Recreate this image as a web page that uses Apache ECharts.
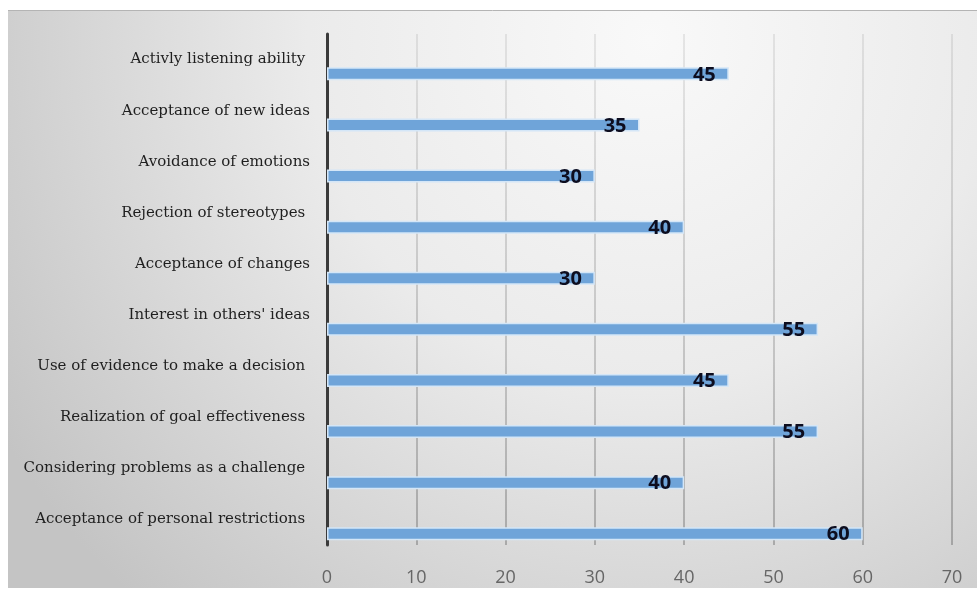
<!DOCTYPE html>
<html><head><meta charset="utf-8">
<script src="https://cdn.jsdelivr.net/npm/echarts@6/dist/echarts.min.js"></script>
<style>html,body{margin:0;padding:0;background:#fff}#c{width:977px;height:591px}</style>
</head><body><div id="c"></div>
<script>
const categories = ["Activly listening ability ", "Acceptance of new ideas", "Avoidance of emotions", "Rejection of stereotypes ", "Acceptance of changes", "Interest in others' ideas", "Use of evidence to make a decision ", "Realization of goal effectiveness ", "Considering problems as a challenge ", "Acceptance of personal restrictions "];
const values = [45, 35, 30, 40, 30, 55, 45, 55, 40, 60];
const xTicks = [0, 10, 20, 30, 40, 50, 60, 70];

const chart = echarts.init(document.getElementById('c'), null, {renderer: 'canvas'});
chart.setOption({
  animation: false,
  graphic: [
    {type: 'rect', z: -10, shape: {x: 8, y: 10, width: 969, height: 578},
     style: {fill: new echarts.graphic.RadialGradient(650, 40, 760, [
       {offset: 0, color: '#f9f9f9'}, {offset: 0.45, color: '#ebebeb'}, {offset: 1, color: '#c4c4c4'}], true)}},
    {type: 'line', z: -9, shape: {x1: 8, y1: 10.5, x2: 977, y2: 10.5}, style: {stroke: '#b4b4b4', lineWidth: 1}}
  ],
  grid: {left: 327, right: 25, top: 34, bottom: 46},
  xAxis: {
    type: 'value', min: 0, max: 70, interval: 10,
    axisLine: {show: false}, axisTick: {show: false},
    axisLabel: {margin: 24, color: '#666666', fontSize: 18, fontFamily: 'Open Sans', formatter: v => xTicks.includes(v) ? String(v) : ''},
    splitLine: {show: true, lineStyle: {width: 1.5, color: new echarts.graphic.LinearGradient(0, 0, 0, 1, [
      {offset: 0, color: 'rgba(0,0,0,0.1)'}, {offset: 1, color: 'rgba(0,0,0,0.3)'}])}}
  },
  yAxis: {
    type: 'category', data: categories, inverse: true,
    axisLine: {show: true, lineStyle: {color: '#3a3a3a', width: 3}},
    axisTick: {show: false},
    axisLabel: {margin: 17, color: '#1f1f1f', fontSize: 15, fontFamily: 'DejaVu Serif'}
  },
  series: [
    {type: 'bar', name: 'spacer', data: categories.map(() => null), barWidth: 13, barGap: '120%'},
    {type: 'bar', name: 'value', data: values, barWidth: 13,
     itemStyle: {color: '#6fa4d9', borderColor: '#d4e6f7', borderWidth: 1.5},
     label: {show: true, position: 'insideRight', offset: [-8, 1], color: '#0d0d1f', fontWeight: 'bold', fontSize: 20, fontFamily: 'Open Sans'}}
  ]
});
</script></body></html>
